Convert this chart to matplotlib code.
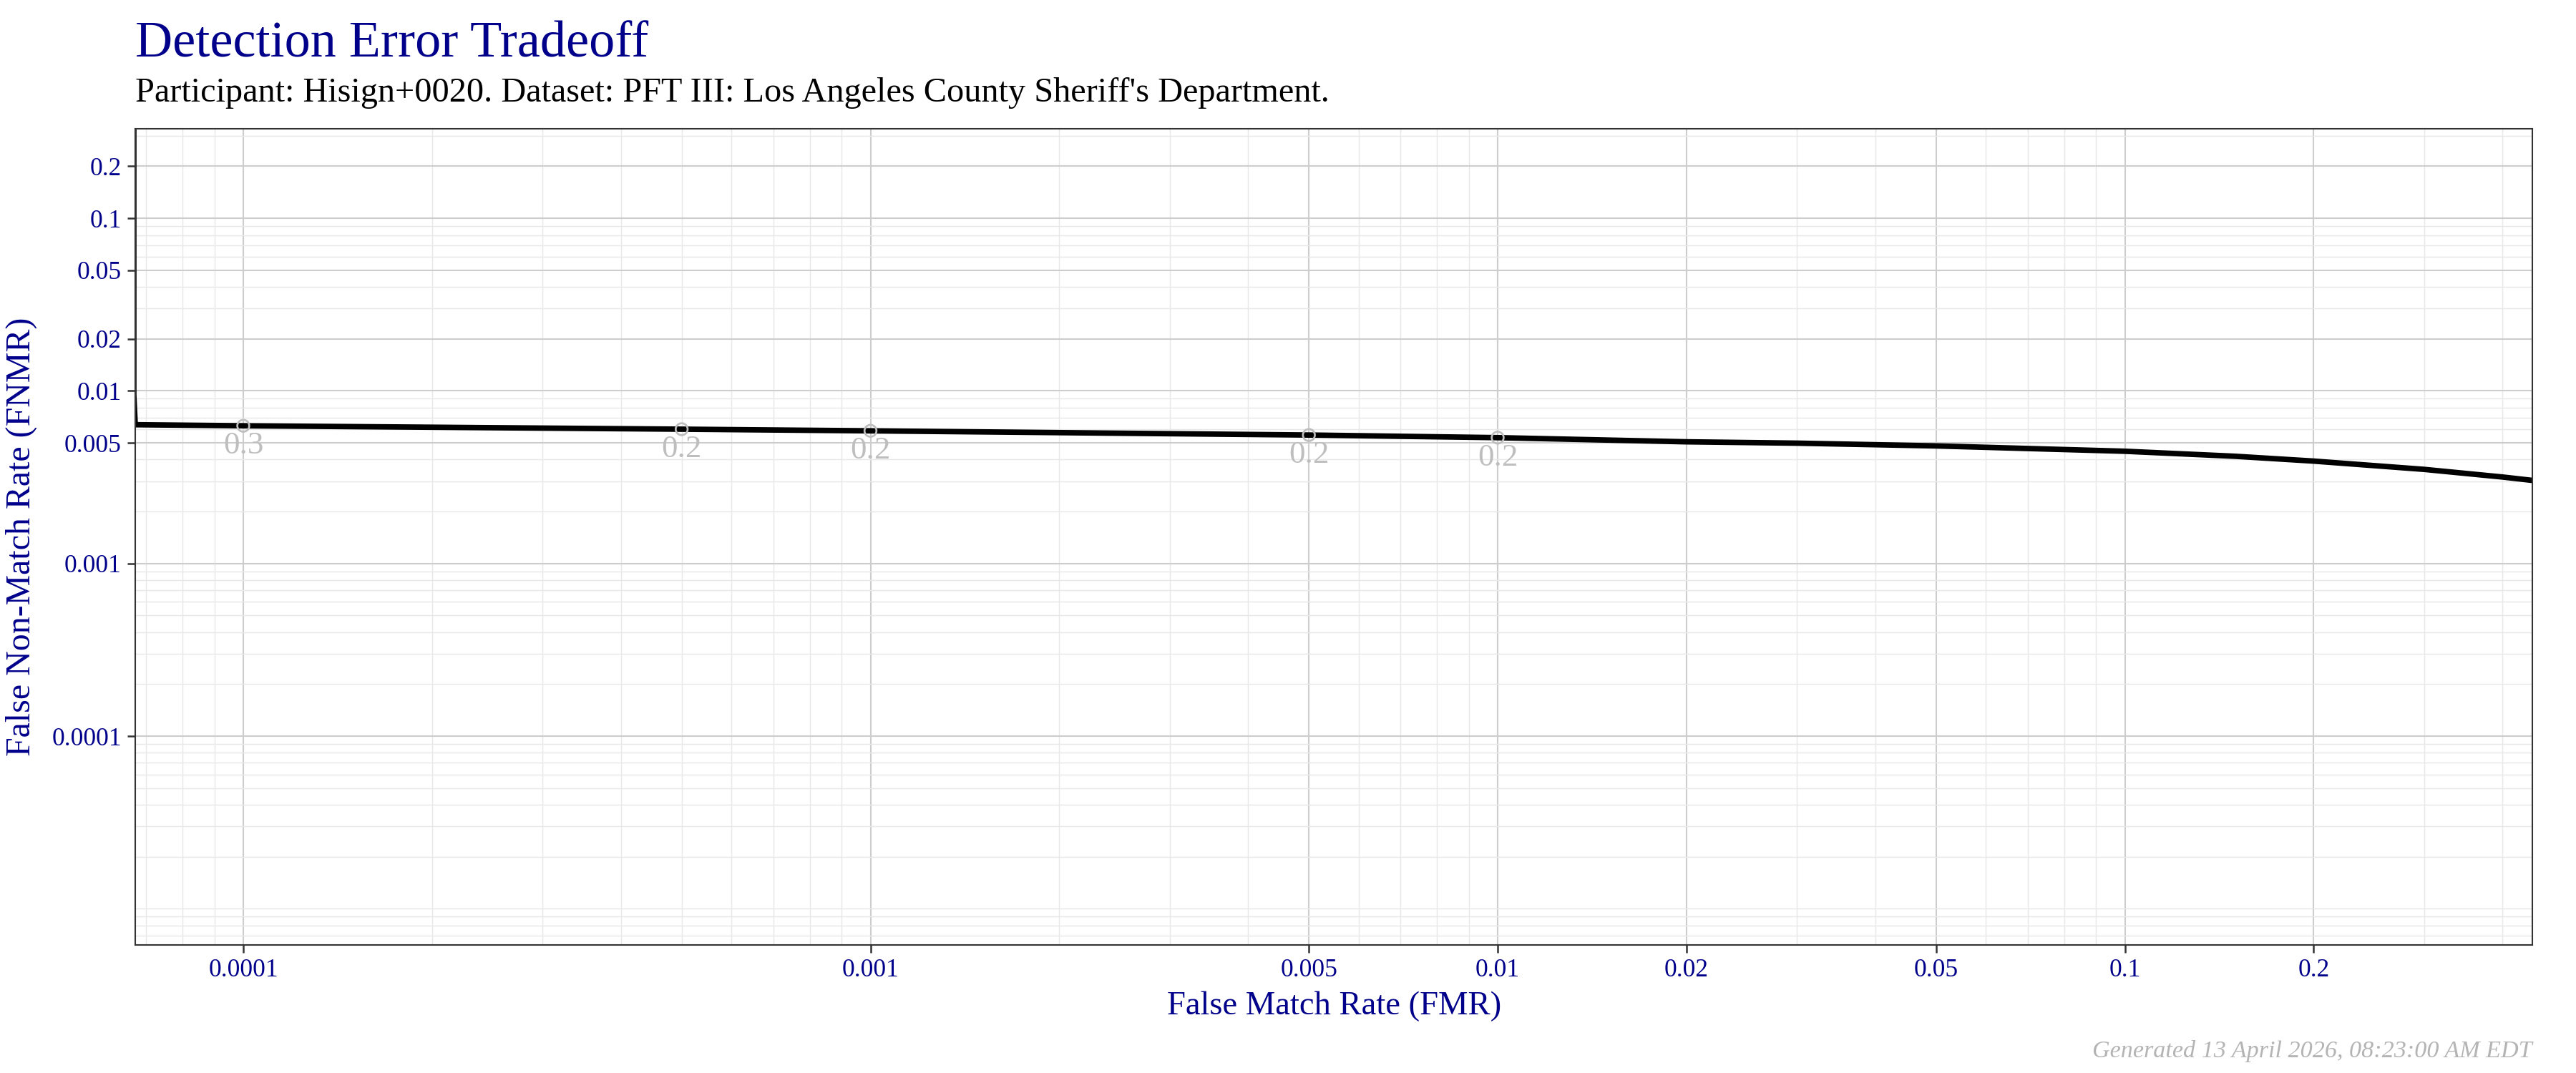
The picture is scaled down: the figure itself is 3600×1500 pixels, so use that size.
import matplotlib
matplotlib.use("Agg")
import matplotlib.pyplot as plt
from matplotlib.ticker import FixedLocator, FixedFormatter, LogLocator, NullFormatter

plt.rcParams['font.family'] = ['Liberation Serif', 'DejaVu Serif']

# ---- data ----
title = "Detection Error Tradeoff"
subtitle = "Participant: Hisign+0020. Dataset: PFT III: Los Angeles County Sheriff's Department."
footer = "Generated 13 April 2026, 08:23:00 AM EDT"
x_label = "False Match Rate (FMR)"
y_label = "False Non-Match Rate (FNMR)"

fmr = [6.69e-5, 6.69e-5, 6.726e-5, 1e-4, 5e-4, 1e-3, 5e-3, 1e-2, 2e-2, 3e-2,
       5e-2, 0.1, 0.15, 0.2, 0.3, 0.4, 0.4465]
fnmr = [1.0, 0.0095, 0.00637, 0.00628, 0.0060, 0.00587, 0.00555, 0.00536, 0.00507, 0.00498,
        0.0048, 0.00447, 0.00418, 0.00392, 0.00351, 0.00317, 0.00303]

pt_fmr = [1e-4, 5e-4, 1e-3, 5e-3, 1e-2]
pt_fnmr = [0.00628, 0.0060, 0.00587, 0.00555, 0.00536]
pt_labels = ["0.3", "0.2", "0.2", "0.2", "0.2"]

x_ticks = [0.0001, 0.001, 0.005, 0.01, 0.02, 0.05, 0.1, 0.2]
x_tick_labels = ["0.0001", "0.001", "0.005", "0.01", "0.02", "0.05", "0.1", "0.2"]
y_ticks = [0.0001, 0.001, 0.005, 0.01, 0.02, 0.05, 0.1, 0.2]
y_tick_labels = ["0.0001", "0.001", "0.005", "0.01", "0.02", "0.05", "0.1", "0.2"]

x_lim = (6.726e-5, 0.4465)
y_lim = (6.17e-6, 0.330)

# ---- style ----
blue = "#00008B"
grey_pt = "#bebebe"

fig = plt.figure(figsize=(12, 5), dpi=300)
fig.patch.set_facecolor("white")
ax = fig.add_axes([0.0525, 0.11933, 0.9306, 0.76067])

ax.set_xscale("log")
ax.set_yscale("log")
ax.set_xlim(*x_lim)
ax.set_ylim(*y_lim)

ax.xaxis.set_major_locator(FixedLocator(x_ticks))
ax.xaxis.set_major_formatter(FixedFormatter(x_tick_labels))
ax.yaxis.set_major_locator(FixedLocator(y_ticks))
ax.yaxis.set_major_formatter(FixedFormatter(y_tick_labels))
ax.xaxis.set_minor_locator(LogLocator(base=10, subs=range(1, 10), numticks=50))
ax.yaxis.set_minor_locator(LogLocator(base=10, subs=range(1, 10), numticks=50))
ax.xaxis.set_minor_formatter(NullFormatter())
ax.yaxis.set_minor_formatter(NullFormatter())

ax.set_axisbelow(True)
ax.grid(which="major", color="#cdcdcd", linewidth=0.5)
ax.grid(which="minor", color="#e8e8e8", linewidth=0.35)

ax.tick_params(which="major", length=2.6, width=0.6, color="#333333",
               labelsize=8.5, labelcolor=blue, pad=2.0)
ax.tick_params(which="minor", length=0)

for sp in ax.spines.values():
    sp.set_color("#333333")
    sp.set_linewidth(0.5)
    sp.set_zorder(5)

ax.plot(fmr, fnmr, color="black", linewidth=1.85, solid_capstyle="butt", zorder=3)
ax.scatter(pt_fmr, pt_fnmr, s=16, facecolors="none", edgecolors=grey_pt,
           linewidths=0.65, zorder=4)
for xv, yv, lab in zip(pt_fmr, pt_fnmr, pt_labels):
    ax.annotate(lab, (xv, yv), xytext=(0, -9.4), textcoords="offset points",
                ha="center", va="baseline", fontsize=10.8, color=grey_pt, zorder=4)

ax.set_xlabel(x_label, fontsize=11.2, color=blue)
ax.set_ylabel(y_label, fontsize=11.5, color=blue)
ax.xaxis.set_label_coords(0.5, -0.057)
ax.yaxis.set_label_coords(-0.0409, 0.5)

fig.text(189 / 3600, 1 - 79.3 / 1500, title, fontsize=17.3, color=blue,
         ha="left", va="baseline")
fig.text(189 / 3600, 1 - 141.7 / 1500, subtitle, fontsize=11.6, color="black",
         ha="left", va="baseline")
fig.text(3539 / 3600, 1 - 1478 / 1500, footer, fontsize=8.2, color="#b4b4b4",
         style="italic", ha="right", va="baseline")

fig.savefig("out.png", dpi=300, facecolor="white")
